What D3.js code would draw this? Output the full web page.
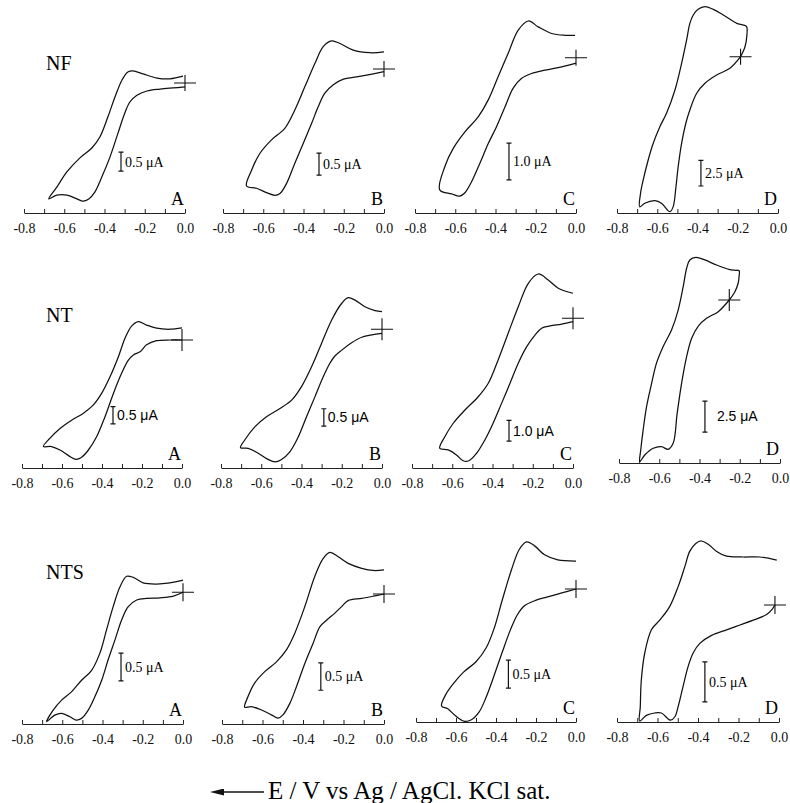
<!DOCTYPE html>
<html>
<head>
<meta charset="utf-8">
<script src="https://cdn.jsdelivr.net/npm/d3@7"></script>
<style>
body { margin: 0; background: #fff; }
</style>
</head>
<body>
<script>
// rows / columns of the figure
const rowNames = ["NF", "NT", "NTS"];
const panelLetters = ["A", "B", "C", "D"];
const tickValues = [-0.8, -0.7, -0.6, -0.5, -0.4, -0.3, -0.2, -0.1, 0.0];
const tickLabels = [-0.8, -0.6, -0.4, -0.2, 0.0];
// scale bar size in µA per panel
const barValues = [[0.5, 0.5, 1.0, 2.5], [0.5, 0.5, 1.0, 2.5], [0.5, 0.5, 0.5, 0.5]];
// potential of the start point (cross), V
const crossE = [[0, 0, 0, -0.186], [0, 0, 0, -0.252], [0, 0, 0, -0.02]];

// voltammograms: [E (V), I (µA)]
const nfA = [[0,-0.105],[-0.060,-0.13],[-0.124,-0.16],[-0.189,-0.21],[-0.239,-0.32],[-0.274,-0.50],[-0.299,-0.79],[-0.333,-1.32],[-0.373,-1.95],[-0.413,-2.47],[-0.448,-2.87],[-0.478,-3.05],[-0.507,-3.11],[-0.537,-3.05],[-0.587,-2.95],[-0.637,-2.95],[-0.677,-3.05],[-0.637,-2.74],[-0.587,-2.34],[-0.522,-1.97],[-0.463,-1.71],[-0.423,-1.42],[-0.383,-0.89],[-0.348,-0.37],[-0.313,0.08],[-0.284,0.29],[-0.259,0.32],[-0.209,0.24],[-0.139,0.13],[-0.075,0.11],[-0.010,0.18]];
const nfB = [[0,-0.06],[-0.053,-0.11],[-0.136,-0.18],[-0.202,-0.23],[-0.252,-0.36],[-0.294,-0.55],[-0.327,-0.86],[-0.360,-1.24],[-0.401,-1.69],[-0.443,-2.14],[-0.484,-2.60],[-0.517,-2.83],[-0.542,-2.87],[-0.584,-2.81],[-0.633,-2.71],[-0.683,-2.66],[-0.658,-2.30],[-0.617,-1.92],[-0.559,-1.61],[-0.493,-1.35],[-0.443,-0.93],[-0.393,-0.40],[-0.343,0.13],[-0.302,0.51],[-0.260,0.64],[-0.219,0.58],[-0.153,0.43],[-0.070,0.37],[0,0.39]];
const nfC = [[0,-0.15],[-0.071,-0.25],[-0.154,-0.34],[-0.221,-0.43],[-0.270,-0.56],[-0.312,-0.83],[-0.353,-1.34],[-0.395,-1.88],[-0.436,-2.34],[-0.478,-2.88],[-0.519,-3.38],[-0.552,-3.68],[-0.577,-3.77],[-0.618,-3.71],[-0.677,-3.60],[-0.652,-2.97],[-0.610,-2.47],[-0.552,-2.02],[-0.486,-1.61],[-0.436,-1.15],[-0.387,-0.52],[-0.337,0.12],[-0.287,0.75],[-0.237,1.00],[-0.188,0.84],[-0.121,0.66],[-0.055,0.61],[-0.005,0.61]];
const nfD = [[-0.186,0],[-0.164,0.97],[-0.155,2.0],[-0.156,2.92],[-0.175,3.10],[-0.205,3.25],[-0.272,4.06],[-0.322,4.61],[-0.363,4.87],[-0.397,4.61],[-0.421,4.06],[-0.438,3.25],[-0.454,1.63],[-0.479,-0.64],[-0.512,-3.24],[-0.554,-5.51],[-0.587,-6.82],[-0.620,-8.43],[-0.645,-10.06],[-0.670,-12.01],[-0.683,-13.30],[-0.687,-14.61],[-0.662,-14.27],[-0.612,-14.02],[-0.579,-14.27],[-0.537,-15.09],[-0.521,-14.61],[-0.507,-12.66],[-0.496,-10.71],[-0.479,-8.43],[-0.458,-6.48],[-0.438,-5.19],[-0.404,-3.56],[-0.363,-2.59],[-0.305,-1.78],[-0.239,-1.13],[-0.186,0]];
const ntA = [[0,0],[-0.060,0],[-0.127,-0.02],[-0.177,-0.14],[-0.210,-0.34],[-0.243,-0.43],[-0.268,-0.58],[-0.302,-0.96],[-0.343,-1.54],[-0.385,-2.21],[-0.427,-2.79],[-0.468,-3.17],[-0.502,-3.38],[-0.530,-3.44],[-0.560,-3.36],[-0.610,-3.17],[-0.652,-3.07],[-0.693,-3.07],[-0.660,-2.83],[-0.610,-2.55],[-0.552,-2.31],[-0.493,-2.11],[-0.443,-1.87],[-0.402,-1.54],[-0.360,-1.06],[-0.318,-0.48],[-0.285,0.05],[-0.252,0.40],[-0.218,0.53],[-0.177,0.43],[-0.127,0.34],[-0.060,0.31],[0,0.35]];
const ntB = [[0,-0.12],[-0.051,-0.16],[-0.101,-0.23],[-0.151,-0.39],[-0.200,-0.60],[-0.234,-0.77],[-0.259,-0.98],[-0.292,-1.37],[-0.333,-1.94],[-0.375,-2.52],[-0.416,-3.10],[-0.458,-3.53],[-0.499,-3.75],[-0.532,-3.82],[-0.566,-3.75],[-0.615,-3.57],[-0.665,-3.43],[-0.703,-3.41],[-0.682,-3.19],[-0.632,-2.81],[-0.574,-2.52],[-0.507,-2.28],[-0.449,-2.04],[-0.400,-1.65],[-0.350,-1.08],[-0.300,-0.40],[-0.250,0.27],[-0.200,0.75],[-0.168,0.91],[-0.134,0.84],[-0.085,0.65],[-0.035,0.54],[0,0.51]];
const ntC = [[0,-0.16],[-0.056,-0.28],[-0.114,-0.37],[-0.156,-0.48],[-0.189,-0.81],[-0.230,-1.37],[-0.272,-2.17],[-0.313,-3.14],[-0.355,-4.11],[-0.397,-5.07],[-0.438,-5.88],[-0.479,-6.52],[-0.517,-6.88],[-0.546,-6.88],[-0.579,-6.60],[-0.620,-6.36],[-0.662,-6.28],[-0.637,-5.72],[-0.595,-5.07],[-0.537,-4.43],[-0.471,-3.79],[-0.421,-3.14],[-0.372,-2.01],[-0.322,-0.72],[-0.272,0.56],[-0.222,1.69],[-0.173,2.14],[-0.123,1.85],[-0.073,1.45],[0,1.21]];
const ntD = [[-0.252,0],[-0.224,0.67],[-0.208,1.35],[-0.203,1.95],[-0.203,2.36],[-0.225,2.40],[-0.249,2.45],[-0.315,2.82],[-0.373,3.23],[-0.418,3.44],[-0.448,3.23],[-0.464,2.56],[-0.481,1.07],[-0.506,-0.81],[-0.539,-2.42],[-0.581,-3.77],[-0.614,-5.11],[-0.638,-6.72],[-0.663,-8.60],[-0.680,-10.48],[-0.692,-12.10],[-0.697,-13.04],[-0.672,-12.50],[-0.630,-11.96],[-0.589,-11.83],[-0.556,-12.04],[-0.531,-11.56],[-0.511,-9.14],[-0.489,-6.72],[-0.464,-4.57],[-0.439,-3.09],[-0.406,-2.10],[-0.365,-1.48],[-0.307,-0.94],[-0.252,0]];
const ntsA = [[0,0],[-0.048,-0.07],[-0.114,-0.10],[-0.181,-0.11],[-0.230,-0.14],[-0.272,-0.26],[-0.305,-0.50],[-0.338,-0.86],[-0.372,-1.22],[-0.404,-1.59],[-0.438,-1.89],[-0.471,-2.13],[-0.504,-2.28],[-0.532,-2.31],[-0.562,-2.25],[-0.603,-2.19],[-0.637,-2.22],[-0.678,-2.34],[-0.645,-2.13],[-0.603,-1.95],[-0.554,-1.80],[-0.504,-1.59],[-0.454,-1.41],[-0.413,-1.10],[-0.380,-0.68],[-0.347,-0.26],[-0.313,0.10],[-0.280,0.29],[-0.247,0.27],[-0.198,0.17],[-0.131,0.15],[-0.065,0.17],[0,0.22]];
const ntsB = [[0,0],[-0.053,-0.04],[-0.110,-0.08],[-0.177,-0.12],[-0.209,-0.23],[-0.243,-0.35],[-0.284,-0.48],[-0.317,-0.60],[-0.350,-0.90],[-0.391,-1.27],[-0.432,-1.69],[-0.465,-2.00],[-0.499,-2.21],[-0.523,-2.27],[-0.556,-2.21],[-0.605,-2.12],[-0.655,-2.06],[-0.688,-2.07],[-0.672,-1.88],[-0.639,-1.63],[-0.589,-1.42],[-0.531,-1.24],[-0.482,-1.02],[-0.441,-0.72],[-0.391,-0.23],[-0.342,0.32],[-0.300,0.65],[-0.267,0.76],[-0.226,0.68],[-0.177,0.56],[-0.110,0.47],[-0.053,0.43],[0,0.44]];
const ntsC = [[0,0],[-0.071,-0.07],[-0.141,-0.14],[-0.207,-0.21],[-0.258,-0.30],[-0.293,-0.46],[-0.328,-0.73],[-0.369,-1.13],[-0.409,-1.54],[-0.449,-1.93],[-0.485,-2.20],[-0.525,-2.34],[-0.561,-2.36],[-0.601,-2.27],[-0.641,-2.14],[-0.672,-2.09],[-0.652,-1.89],[-0.611,-1.68],[-0.561,-1.48],[-0.500,-1.30],[-0.449,-1.05],[-0.409,-0.70],[-0.369,-0.20],[-0.323,0.34],[-0.283,0.71],[-0.247,0.84],[-0.207,0.77],[-0.157,0.61],[-0.091,0.52],[0,0.50]];
const ntsD = [[-0.020,0],[-0.036,-0.06],[-0.061,-0.12],[-0.127,-0.19],[-0.193,-0.25],[-0.259,-0.31],[-0.333,-0.38],[-0.391,-0.48],[-0.424,-0.60],[-0.449,-0.77],[-0.474,-1.02],[-0.498,-1.27],[-0.515,-1.40],[-0.536,-1.44],[-0.581,-1.35],[-0.614,-1.35],[-0.655,-1.38],[-0.688,-1.45],[-0.685,-1.27],[-0.680,-0.94],[-0.663,-0.60],[-0.630,-0.31],[-0.589,-0.19],[-0.540,-0.02],[-0.498,0.23],[-0.465,0.48],[-0.441,0.67],[-0.411,0.77],[-0.383,0.80],[-0.350,0.76],[-0.308,0.67],[-0.259,0.61],[-0.177,0.60],[-0.094,0.60],[-0.011,0.56]];
const curves = [[nfA, nfB, nfC, nfD], [ntA, ntB, ntC, ntD], [ntsA, ntsB, ntsC, ntsD]];

// ---- layout (pixels) ----
const W = 790, H = 803;
const serif = "Liberation Serif, Times New Roman, serif";
const sans = "Liberation Sans, Arial, sans-serif";
const axisX = [
    [[24,185],[223,384],[415,576],[617,778]],
    [[22,182],[221,382],[412,573],[619,780]],
    [[22,183],[222,384],[416,576],[617,779]]
];
const axisY = [[213,213,213,213],[468,468,468,463],[724,724,722,722]];
const zeroY = [[83,69,57.7,56.7],[340,329.3,318.3,300],[592.3,594,589,605]];
const pxPerUA = [[38,44,36.7,10.27],[34.7,34.7,20.7,12.4],[55.3,54.7,56,80]];
const barAt = [
    [[-0.318,-2.32],[-0.323,-2.41],[-0.333,-3.33],[-0.383,-12.59]],
    [[-0.345,-2.42],[-0.289,-2.79],[-0.318,-5.93],[-0.373,-10.65]],
    [[-0.308,-1.60],[-0.312,-1.76],[-0.338,-1.77],[-0.366,-1.21]]
];
const barFont = [serif, sans, serif];
const crossArm = [8, 11, 9];
const rowLabelY = [70, 322, 579];

const svg = d3.select("body").append("svg")
    .attr("width", W).attr("height", H)
    .style("font-family", serif);

rowNames.forEach((name, r) => {
    svg.append("text")
        .attr("x", 46).attr("y", rowLabelY[r])
        .attr("font-size", 20)
        .text(name);

    panelLetters.forEach((letter, c) => {
        const g = svg.append("g");
        const x = d3.scaleLinear().domain([-0.8, 0]).range(axisX[r][c]);
        const y = d3.scaleLinear().domain([0, 1])
            .range([zeroY[r][c], zeroY[r][c] - pxPerUA[r][c]]);

        // potential axis, ticks pointing up
        const ax = d3.axisBottom(x)
            .tickValues(tickValues)
            .tickSizeInner(-4).tickSizeOuter(0).tickPadding(10)
            .tickFormat(d => tickLabels.some(t => Math.abs(t - d) < 1e-6) ? d.toFixed(1) : "");
        const axG = g.append("g")
            .attr("transform", `translate(0,${axisY[r][c]})`)
            .call(ax)
            .attr("font-family", serif).attr("font-size", 14);
        axG.select(".domain").attr("stroke", "#222");
        axG.selectAll(".tick line").attr("stroke", "#222");
        axG.selectAll(".tick text").attr("fill", "#111");

        // the voltammogram
        const line = d3.line()
            .x(d => x(d[0])).y(d => y(d[1]))
            .curve(d3.curveCatmullRom.alpha(0.5));
        g.append("path")
            .attr("d", line(curves[r][c]))
            .attr("fill", "none").attr("stroke", "#111").attr("stroke-width", 1.25);

        // start point cross
        const cx = x(crossE[r][c]), cy = y(0);
        g.append("path")
            .attr("d", `M${cx - 11},${cy}H${cx + 11}M${cx},${cy - crossArm[r]}V${cy + crossArm[r]}`)
            .attr("stroke", "#111").attr("stroke-width", 1.1);

        // current scale bar
        const bx = x(barAt[r][c][0]);
        const by0 = y(barAt[r][c][1]), by1 = y(barAt[r][c][1] + barValues[r][c]);
        g.append("path")
            .attr("d", `M${bx},${by0}V${by1}M${bx - 2.5},${by0}H${bx + 2.5}M${bx - 2.5},${by1}H${bx + 2.5}`)
            .attr("stroke", "#111").attr("stroke-width", 1.2);
        g.append("text")
            .attr("x", bx + (r === 1 && c === 3 ? 12 : 4))
            .attr("y", (by0 + by1) / 2).attr("dy", "0.35em")
            .attr("font-family", barFont[r]).attr("font-size", 14)
            .text(barValues[r][c].toFixed(1) + " \u03bcA");

        // panel letter
        g.append("text")
            .attr("x", axisX[r][c][1] - 1).attr("y", axisY[r][c] - 8)
            .attr("text-anchor", "end").attr("font-size", 18)
            .text(letter);
    });
});

// potential sweep direction and axis title
svg.append("defs").append("marker")
    .attr("id", "head").attr("viewBox", "0 0 14 7")
    .attr("refX", 0).attr("refY", 3.5)
    .attr("markerWidth", 14).attr("markerHeight", 7)
    .attr("markerUnits", "userSpaceOnUse")
    .attr("orient", "auto")
    .append("path").attr("d", "M0,0L14,3.5L0,7Z").attr("fill", "#111");
svg.append("line")
    .attr("x1", 264).attr("x2", 224).attr("y1", 792).attr("y2", 792)
    .attr("stroke", "#111").attr("stroke-width", 1.3)
    .attr("marker-end", "url(#head)");
svg.append("text")
    .attr("x", 268).attr("y", 799)
    .attr("font-size", 25)
    .text("E / V vs Ag / AgCl. KCl sat.");
</script>
</body>
</html>
